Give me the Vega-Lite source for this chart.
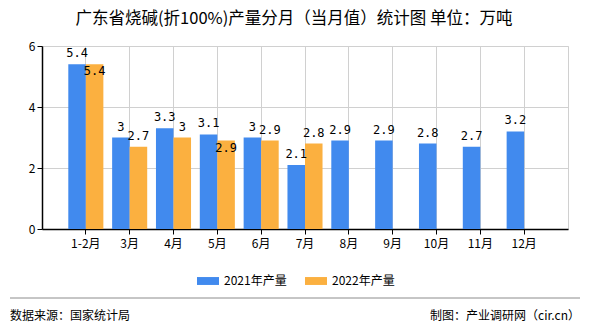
{
  "$schema": "https://vega.github.io/schema/vega-lite/v6.json",
  "width": 526,
  "height": 183,
  "autosize": {"type": "none"},
  "padding": {"left": 42, "top": 46, "right": 22, "bottom": 101},
  "background": "white",
  "title": {
    "text": "广东省烧碱(折100%)产量分月（当月值）统计图 单位：万吨",
    "anchor": "middle",
    "frame": "group",
    "dx": -11,
    "offset": 13,
    "fontSize": 16.5,
    "fontWeight": "normal",
    "font": "Noto Sans CJK SC",
    "color": "#000000"
  },
  "config": {
    "view": {"stroke": "#d0d0d0"},
    "font": "Noto Sans CJK SC"
  },
  "data": {
    "values": [
      {"month": "1-2月", "series": "2021年产量", "value": 5.4},
      {"month": "1-2月", "series": "2022年产量", "value": 5.4},
      {"month": "3月", "series": "2021年产量", "value": 3.0},
      {"month": "3月", "series": "2022年产量", "value": 2.7},
      {"month": "4月", "series": "2021年产量", "value": 3.3},
      {"month": "4月", "series": "2022年产量", "value": 3.0},
      {"month": "5月", "series": "2021年产量", "value": 3.1},
      {"month": "5月", "series": "2022年产量", "value": 2.9},
      {"month": "6月", "series": "2021年产量", "value": 3.0},
      {"month": "6月", "series": "2022年产量", "value": 2.9},
      {"month": "7月", "series": "2021年产量", "value": 2.1},
      {"month": "7月", "series": "2022年产量", "value": 2.8},
      {"month": "8月", "series": "2021年产量", "value": 2.9},
      {"month": "9月", "series": "2021年产量", "value": 2.9},
      {"month": "10月", "series": "2021年产量", "value": 2.8},
      {"month": "11月", "series": "2021年产量", "value": 2.7},
      {"month": "12月", "series": "2021年产量", "value": 3.2}
    ]
  },
  "encoding": {
    "x": {
      "field": "month",
      "type": "nominal",
      "sort": ["1-2月", "3月", "4月", "5月", "6月", "7月", "8月", "9月", "10月", "11月", "12月"],
      "scale": {"paddingInner": 0.2, "paddingOuter": 0.6},
      "axis": {
        "title": null,
        "labelAngle": 0,
        "labelFontSize": 12,
        "labelColor": "#000000",
        "labelPadding": 4,
        "grid": true,
        "gridColor": "#d0d0d0",
        "domainColor": "#000000",
        "domainWidth": 1.5,
        "tickColor": "#000000",
        "tickSize": 5
      }
    },
    "xOffset": {
      "field": "series",
      "type": "nominal",
      "scale": {"domain": ["2021年产量", "2022年产量"], "paddingInner": 0}
    }
  },
  "layer": [
    {
      "mark": {"type": "bar"},
      "encoding": {
        "y": {
          "field": "value",
          "type": "quantitative",
          "scale": {"domain": [0, 6], "nice": false},
          "axis": {
            "title": null,
            "values": [0, 2, 4, 6],
            "labelFontSize": 12,
            "labelColor": "#000000",
            "grid": true,
            "gridColor": "#d0d0d0",
            "domainColor": "#000000",
            "domainWidth": 1.5,
            "tickColor": "#000000",
            "tickSize": 5
          }
        },
        "color": {
          "field": "series",
          "type": "nominal",
          "scale": {"domain": ["2021年产量", "2022年产量"], "range": ["#418AEE", "#FBB040"]},
          "legend": {
            "title": null,
            "orient": "none",
            "direction": "horizontal",
            "legendX": 155,
            "legendY": 224,
            "symbolType": "M-1,-0.36H1V0.36H-1Z",
            "symbolSize": 484,
            "symbolStrokeWidth": 0,
            "labelFontSize": 12,
            "labelColor": "#000000",
            "labelOffset": 5,
            "columnPadding": 18
          }
        }
      }
    },
    {
      "transform": [{"filter": "!(datum.series === '2022年产量' && (datum.month === '1-2月' || datum.month === '5月'))"}],
      "mark": {"type": "text", "baseline": "bottom", "dy": -4, "fontSize": 12, "font": "DejaVu Sans Mono", "color": "#000000"},
      "encoding": {
        "y": {"field": "value", "type": "quantitative"},
        "text": {"field": "value", "type": "quantitative"}
      }
    },
    {
      "transform": [{"filter": "datum.series === '2022年产量' && (datum.month === '1-2月' || datum.month === '5月')"}],
      "mark": {"type": "text", "baseline": "top", "dy": 2, "fontSize": 12, "font": "DejaVu Sans Mono", "color": "#000000"},
      "encoding": {
        "y": {"field": "value", "type": "quantitative"},
        "text": {"field": "value", "type": "quantitative"}
      }
    },
    {
      "data": {"values": [{"a": 1}]},
      "mark": {"type": "rule", "color": "#8c8c8c", "strokeWidth": 1},
      "encoding": {
        "x": {"value": -32},
        "x2": {"value": 538},
        "y": {"value": 252},
        "xOffset": null
      }
    },
    {
      "data": {"values": [{"label": "数据来源：国家统计局"}]},
      "mark": {"type": "text", "align": "left", "baseline": "middle", "fontSize": 12, "color": "#000000"},
      "encoding": {
        "x": {"value": -32},
        "y": {"value": 270},
        "xOffset": null,
        "text": {"field": "label"}
      }
    },
    {
      "data": {"values": [{"label": "制图：产业调研网（cir.cn）"}]},
      "mark": {"type": "text", "align": "right", "baseline": "middle", "fontSize": 12, "color": "#000000"},
      "encoding": {
        "x": {"value": 538},
        "y": {"value": 270},
        "xOffset": null,
        "text": {"field": "label"}
      }
    }
  ]
}
